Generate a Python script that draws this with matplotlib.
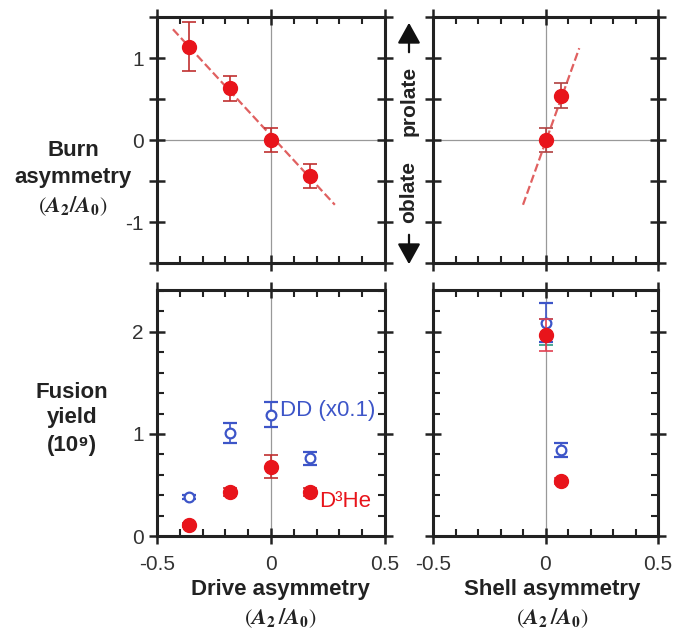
import matplotlib
matplotlib.use('Agg')
from matplotlib import pyplot as plt
from matplotlib.ticker import MultipleLocator, FuncFormatter
from matplotlib.patches import FancyArrowPatch
import numpy as np

plt.rcParams['font.family'] = ['Liberation Sans', 'DejaVu Sans']
plt.rcParams['mathtext.fontset'] = 'stix'

# burn asymmetry vs drive asymmetry
drive_x = [-0.36, -0.18, 0.0, 0.17]
drive_burn = [1.14, 0.63, 0.0, -0.44]
drive_burn_err = [0.30, 0.15, 0.15, 0.15]
drive_fit_x = [-0.43, 0.28]
drive_fit_y = [1.35, -0.79]

# burn asymmetry vs shell asymmetry
shell_x = [0.0, 0.07]
shell_burn = [0.0, 0.54]
shell_burn_err = [0.15, 0.15]
shell_fit_x = [-0.10, 0.15]
shell_fit_y = [-0.79, 1.12]

# fusion yields vs drive asymmetry
drive_d3he = [0.11, 0.43, 0.68, 0.43]
drive_d3he_err = [0.02, 0.04, 0.11, 0.04]
drive_dd = [0.38, 1.01, 1.19, 0.76]
drive_dd_err = [0.02, 0.10, 0.12, 0.06]

# fusion yields vs shell asymmetry
shell_d3he = [1.97, 0.54]
shell_d3he_err = [0.16, 0.03]
shell_dd = [2.09, 0.84]
shell_dd_err = [0.19, 0.07]
shell_other = [2.0]
shell_other_err = [0.13]

RED = '#e8141b'
BLUE = '#3d55c8'
W, H = 674, 633

fig = plt.figure(figsize=(W / 100, H / 100), dpi=100)


def px_axes(l, t, r, b):
    return fig.add_axes([l / W, 1 - b / H, (r - l) / W, (b - t) / H])


def style(ax, ymaj, ymin, ylabels, xlabels):
    ax.set_xlim(-0.5, 0.5)
    ax.xaxis.set_major_locator(MultipleLocator(0.5))
    ax.xaxis.set_minor_locator(MultipleLocator(0.1))
    ax.yaxis.set_major_locator(MultipleLocator(ymaj))
    if ymin:
        ax.yaxis.set_minor_locator(MultipleLocator(ymin))
    for s in ax.spines.values():
        s.set_linewidth(2.2)
        s.set_color('#222222')
    ax.tick_params(which='major', direction='inout', length=12, width=1.8,
                   top=True, right=True, labelsize=15, color='#222222',
                   labelcolor='#333333')
    ax.tick_params(which='minor', direction='in', length=5, width=1.5,
                   top=True, right=True, color='#222222')
    ax.tick_params(axis='x', which='major', pad=8)
    if ylabels:
        ax.yaxis.set_major_formatter(FuncFormatter(
            lambda v, p: '%d' % round(v) if abs(v - round(v)) < 1e-6 else ''))
    else:
        ax.set_yticklabels([])
    if xlabels:
        ax.xaxis.set_major_formatter(FuncFormatter(
            lambda v, p: '0' if abs(v) < 1e-6 else '%.1f' % v))
    else:
        ax.set_xticklabels([])
    ax.axvline(0, color='#999999', lw=0.9, zorder=0)


ax_tl = px_axes(157, 17, 385, 263)
ax_tr = px_axes(433, 17, 658, 263)
ax_bl = px_axes(157, 290, 385, 536)
ax_br = px_axes(433, 290, 658, 536)

for ax in (ax_tl, ax_tr):
    ax.set_ylim(-1.5, 1.5)
    ax.axhline(0, color='#999999', lw=0.9, zorder=0)
style(ax_tl, 0.5, None, True, False)
style(ax_tr, 0.5, None, False, False)
for ax in (ax_bl, ax_br):
    ax.set_ylim(0, 2.41)
style(ax_bl, 1, 0.2, True, True)
style(ax_br, 1, 0.2, False, True)

# top panels
ax_tl.plot(drive_fit_x, drive_fit_y, '--', color='#e06060', lw=1.6, zorder=2)
ax_tl.errorbar(drive_x, drive_burn, yerr=drive_burn_err, fmt='o', color=RED,
               ms=10, elinewidth=1.2, capsize=5, capthick=1.2, ecolor='#c03030', zorder=3)
ax_tr.plot(shell_fit_x, shell_fit_y, '--', color='#e06060', lw=1.6, zorder=2)
ax_tr.errorbar(shell_x, shell_burn, yerr=shell_burn_err, fmt='o', color=RED,
               ms=10, elinewidth=1.2, capsize=5, capthick=1.2, ecolor='#b04040', zorder=3)

# bottom panels
ax_bl.errorbar(drive_x, drive_dd, yerr=drive_dd_err, fmt='o', mfc='white', mec=BLUE,
               mew=1.6, ms=7, color=BLUE, elinewidth=1.2, capsize=5, capthick=1.2, zorder=3)
ax_bl.errorbar(drive_x, drive_d3he, yerr=drive_d3he_err, fmt='o', color=RED,
               ms=10, elinewidth=1.2, capsize=5, capthick=1.2, ecolor='#c03030', zorder=3)
ax_br.errorbar([0.0], shell_other, yerr=shell_other_err, fmt='none', ecolor='#2a9a80',
               elinewidth=1.2, capsize=5, capthick=1.2, zorder=2)
ax_br.errorbar(shell_x, shell_dd, yerr=shell_dd_err, fmt='o', mfc='white', mec=BLUE,
               mew=1.6, ms=7, color=BLUE, elinewidth=1.2, capsize=5, capthick=1.2, zorder=3)
ax_br.errorbar(shell_x, shell_d3he, yerr=shell_d3he_err, fmt='o', color=RED,
               ms=10, elinewidth=1.2, capsize=5, capthick=1.2, ecolor='#e04050', zorder=4)

ax_bl.text(0.04, 1.23, 'DD (x0.1)', color=BLUE, fontsize=16, va='center', ha='left')
ax_bl.text(0.21, 0.34, 'D³He', color=RED, fontsize=16, va='center', ha='left')

# axis titles
lab = dict(fontsize=16, fontweight='bold', color='#222222', ha='center', va='center')
sym = r'$(\mathbfit{A}_\mathbf{2}\mathbf{/}\mathbfit{A}_\mathbf{0})$'
sym2 = r'$(\mathbfit{A}_\mathbf{2}\,\mathbf{/}\mathbfit{A}_\mathbf{0})$'
fig.text(73 / W, 1 - 150 / H, 'Burn', **lab)
fig.text(73 / W, 1 - 178 / H, 'asymmetry', **lab)
fig.text(73 / W, 1 - 206 / H, sym, **lab)
fig.text(72 / W, 1 - 392 / H, 'Fusion', **lab)
fig.text(72 / W, 1 - 418 / H, 'yield', **lab)
fig.text(72 / W, 1 - 445 / H, '(10⁹)', **lab)
fig.text(280 / W, 1 - 590 / H, 'Drive asymmetry', **lab)
fig.text(280 / W, 1 - 618 / H, sym2, **lab)
fig.text(552 / W, 1 - 590 / H, 'Shell asymmetry', **lab)
fig.text(552 / W, 1 - 618 / H, sym2, **lab)

# prolate / oblate
side = dict(lab, fontsize=15)
fig.text(409 / W, 1 - 101 / H, 'prolate', rotation=90, **side)
fig.text(409 / W, 1 - 192 / H, 'oblate', rotation=90, **side)
arrow = dict(arrowstyle='-|>,head_width=0.5,head_length=0.9', color='#111111', lw=1.6,
             mutation_scale=14)
fig.add_artist(FancyArrowPatch(
    (409 / W, 1 - 55 / H), (409 / W, 1 - 20 / H), transform=fig.transFigure, **arrow))
fig.add_artist(FancyArrowPatch(
    (409 / W, 1 - 232 / H), (409 / W, 1 - 267 / H), transform=fig.transFigure, **arrow))

fig.savefig('out.png', dpi=100)
